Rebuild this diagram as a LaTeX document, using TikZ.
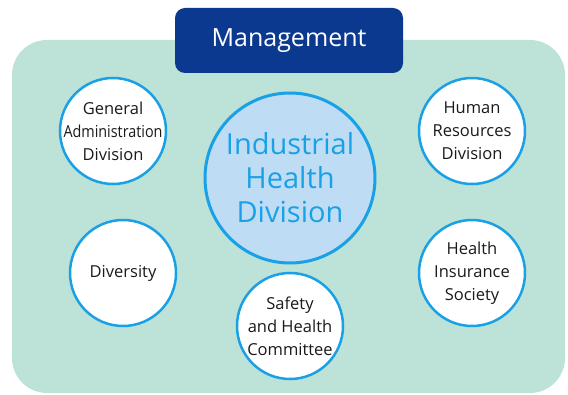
\documentclass[tikz,border=0pt]{standalone}
\usepackage{fontspec}
\setmainfont{Open Sans}
\usepackage{graphicx}
\usepackage{tikz}
\usetikzlibrary{shapes.geometric}

\definecolor{mint}{HTML}{BDE2D7}
\definecolor{navy}{HTML}{0B3990}
\definecolor{sky}{HTML}{1AA0E6}
\definecolor{pale}{HTML}{BEDDF4}
\definecolor{ink}{HTML}{1A1A1A}

\begin{document}
\begin{tikzpicture}[
    x=1pt, y=1pt,
    every node/.style={text centered, align=center},
    header/.style={rectangle, rounded corners=10pt, fill=navy, text=white,
        minimum width=228pt, minimum height=65pt, font=\fontsize{25}{30}\selectfont},
    core/.style={circle, draw=sky, line width=3pt, fill=pale, text=sky,
        minimum size=170pt, inner sep=-20pt, font=\fontsize{29}{34}\selectfont},
    unit/.style={circle, draw=sky, line width=2.5pt, fill=white, text=ink,
        minimum size=106pt, inner sep=-25pt, font=\fontsize{16.5}{23}\selectfont}
]
\useasboundingbox (0,0) rectangle (568,394);
% Background
\fill [mint, rounded corners=35pt] (12,1) rectangle (565,354);

% Nodes
\node (mgmt) [header] at (289,353.5) {Management};
\node (ihd) [core] at (290,216) {Industrial\\Health\\Division};
\node (gad) [unit] at (113,263) {General\\\scalebox{0.87}[1]{Administration}\\Division};
\node (hrd) [unit] at (472,263) {Human\\Resources\\Division};
\node (div) [unit] at (123,121) {Diversity};
\node (shc) [unit] at (290,68) {Safety\\and Health\\Committee};
\node (his) [unit] at (472,121) {Health\\Insurance\\Society};
\end{tikzpicture}
\end{document}
